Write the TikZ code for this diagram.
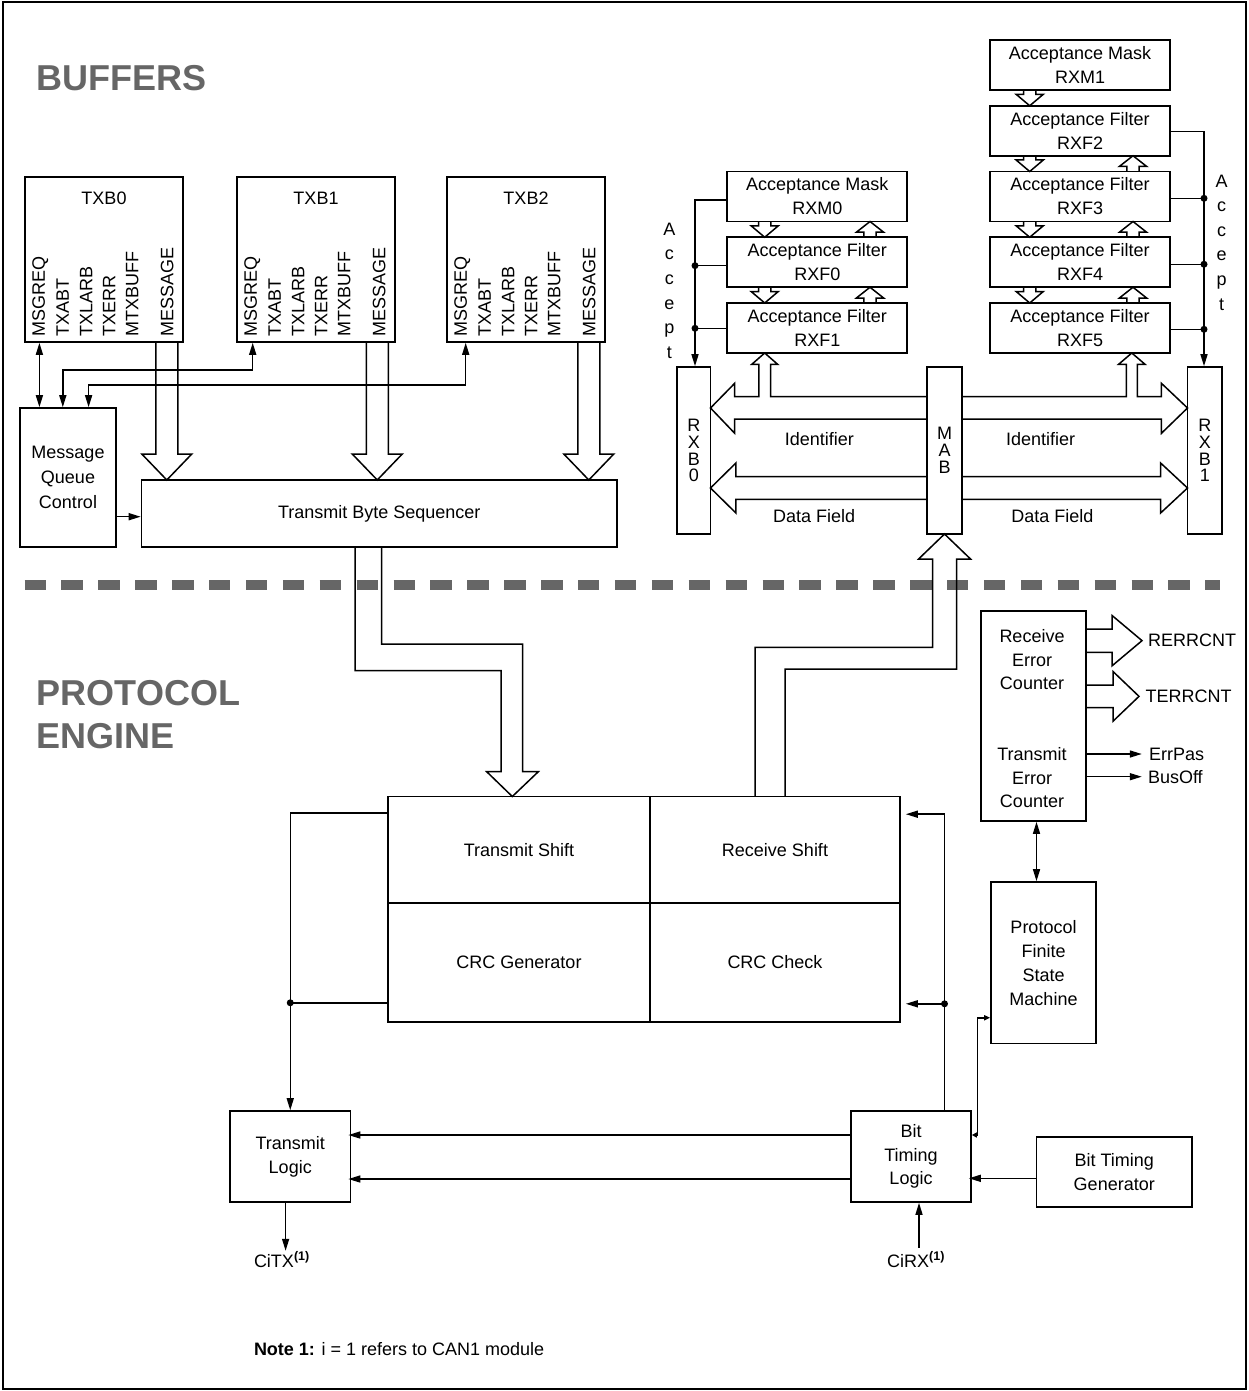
\documentclass[tikz,border=0pt]{standalone}
\usepackage{fontspec}
\setmainfont{Liberation Sans}
\usetikzlibrary{arrows.meta,calc}
\definecolor{ttlgray}{HTML}{666666}
\newcommand{\myfnt}{\fontsize{18}{24}\selectfont}
\newcommand{\myttl}{\fontsize{36}{43}\selectfont\bfseries}
\newcommand{\stackfnt}{\fontsize{18}{16.8}\selectfont}
\newcommand{\accfnt}{\fontsize{18}{24.6}\selectfont}
\newcommand{\tightfnt}{\fontsize{18}{23.5}\selectfont}
\newcommand{\hollowV}[6]{\draw[hol] ({#1-#5},#2) -- ({#1-#5},#3) -- ({#1-#6},#3) -- (#1,#4) -- ({#1+#6},#3) -- ({#1+#5},#3) -- ({#1+#5},#2);}
\newcommand{\hollowH}[6]{\draw[hol] (#2,{#1-#5}) -- (#3,{#1-#5}) -- (#3,{#1-#6}) -- (#4,#1) -- (#3,{#1+#6}) -- (#3,{#1+#5}) -- (#2,{#1+#5});}
\tikzset{
  box/.style={draw, line width=1.6pt, inner sep=0pt, align=center, font=\myfnt},
  acc/.style={box, minimum width=180pt, minimum height=50pt},
  ln/.style={line width=1.5pt},
  arr/.style={ln, -{Triangle[length=12pt,width=7pt]}},
  darr/.style={ln, {Triangle[length=12pt,width=7pt]}-{Triangle[length=12pt,width=7pt]}},
  sarr/.style={ln, {Triangle[length=5pt,width=5pt]}-{Triangle[length=6pt,width=5pt]}},
  hol/.style={line width=1.5pt, line join=miter},
  dot/.style={circle, fill, inner sep=0pt, minimum size=7pt},
  lbl/.style={inner sep=0pt, font=\myfnt},
  vlbl/.style={lbl, rotate=90, anchor=west},
  ttl/.style={inner sep=0pt, font=\myttl, text=ttlgray, anchor=base west},
}
\begin{document}
\begin{tikzpicture}[x=1pt,y=-1pt]
\useasboundingbox (0,0) rectangle (1248,1391);
\draw[line width=2pt] (2.5,2.5) rectangle (1245.5,1388.5);

% titles
\node[ttl] (tbuf) at (36,91) {BUFFERS};
\node[ttl] (tprot) at (36.7,705) {PROTOCOL};
\node[ttl] (teng) at (36.7,748) {ENGINE};

% separator
\draw[ttlgray, line width=10.5pt, dash pattern=on 21.4pt off 15.5pt] (24.5,585) -- (1219.5,585);

% ---------------- transmit buffers
\foreach \b/\cx in {0/104,1/316,2/526} {
  \node[box, minimum width=158pt, minimum height=165pt] (TXB\b) at (\cx,259.5) {};
  \node[lbl] (TXBt\b) at ($(TXB\b.north)+(0,22.3)$) {TXB\b};
  \foreach \l/\o [count=\i] in {MSGREQ/16,TXABT/38.6,TXLARB/62,TXERR/85,MTXBUFF/108,MESSAGE/143}
    \node[vlbl] (TXBl\b\i) at ($(TXB\b.south west)+(\o,-6)$) {\l};
}
\node[box, minimum width=96pt, minimum height=139pt, font=\fontsize{18}{25}\selectfont] (MQC) at (68,477.5) {Message\\Queue\\Control};
\node[box, minimum width=475.5pt, minimum height=67pt] (TBS) at (379.25,513.5) {Transmit Byte Sequencer};

\draw[darr] ($(TXB0.south west)+(15.2,0)$) -- ($(MQC.north west)+(20.2,0)$);
\draw[darr] ($(MQC.north west)+(43.6,0)$) -- ++(0,-37) -| ($(TXB1.south west)+(16.5,0)$);
\draw[darr] ($(MQC.north west)+(69.4,0)$) -- ++(0,-22) -| ($(TXB2.south west)+(19.5,0)$);
\draw[arr] ($(MQC.east)+(0,39.2)$) -- ($(TBS.west)+(0,3.2)$);

\hollowV{166.8}{342}{454}{480}{11}{25}
\hollowV{377.25}{342}{454}{480}{11}{25}
\hollowV{588.8}{342}{454}{480}{11}{25}

% ---------------- acceptance masks / filters
\node[acc] (RXM1) at (1080,65) {Acceptance Mask\\RXM1};
\node[acc] (RXF2) at (1080,130.75) {Acceptance Filter\\RXF2};
\node[acc] (RXF3) at (1080,196.5) {Acceptance Filter\\RXF3};
\node[acc] (RXF4) at (1080,262.25) {Acceptance Filter\\RXF4};
\node[acc] (RXF5) at (1080,328) {Acceptance Filter\\RXF5};
\node[acc] (RXM0) at (817.25,196.5) {Acceptance Mask\\RXM0};
\node[acc] (RXF0) at (817.25,262.25) {Acceptance Filter\\RXF0};
\node[acc] (RXF1) at (817.25,328) {Acceptance Filter\\RXF1};

% small hollow arrows, right stack
\hollowV{1029.7}{90}{94.3}{105.75}{6.2}{13.6}
\hollowV{1029.7}{155.75}{160}{171.5}{6.2}{13.6}
\hollowV{1029.7}{221.5}{225.8}{237.25}{6.2}{13.6}
\hollowV{1029.7}{287.25}{291.5}{303}{6.2}{13.6}
\hollowV{1133}{171.5}{166.4}{155.75}{6.2}{13.6}
\hollowV{1133}{237.25}{232.2}{221.5}{6.2}{13.6}
\hollowV{1133}{303}{298}{287.25}{6.2}{13.6}
% small hollow arrows, left stack
\hollowV{764.7}{221.5}{225.8}{237.25}{6.2}{13.6}
\hollowV{764.7}{287.25}{291.5}{303}{6.2}{13.6}
\hollowV{870}{237.25}{232.2}{221.5}{6.2}{13.6}
\hollowV{870}{303}{298}{287.25}{6.2}{13.6}

% receive buffers
\node[box, minimum width=33.5pt, minimum height=167pt, font=\stackfnt] (RXB0) at (693.75,450.5) {R\\X\\B\\0};
\node[box, minimum width=35pt, minimum height=167pt, font=\stackfnt] (MAB) at (944.5,450.5) {M\\A\\B};
\node[box, minimum width=34.5pt, minimum height=167pt, font=\stackfnt] (RXB1) at (1204.75,450.5) {R\\X\\B\\1};

% accept lines
\coordinate (aL) at ($(RXB0.north)+(1.25,0)$);
\coordinate (aR) at ($(RXB1.north)+(-0.75,0)$);
\coordinate (f0) at ($(RXF0.west)+(0,3.4)$);
\coordinate (f1) at ($(RXF1.west)+(0,0.3)$);
\coordinate (f3) at ($(RXF3.east)+(0,1.8)$);
\coordinate (f4) at ($(RXF4.east)+(0,2)$);
\coordinate (f5) at ($(RXF5.east)+(0,1.3)$);
\draw[arr] ($(RXM0.west)+(0,3.5)$) -| (aL);
\draw[ln] (f0) -- (f0 -| aL);
\draw[ln] (f1) -- (f1 -| aL);
\node[dot] (dL0) at (f0 -| aL) {};
\node[dot] (dL1) at (f1 -| aL) {};
\draw[arr] ($(RXF2.east)+(0,1)$) -| (aR);
\draw[ln] (f3) -- (f3 -| aR);
\draw[ln] (f4) -- (f4 -| aR);
\draw[ln] (f5) -- (f5 -| aR);
\node[dot] (dR3) at (f3 -| aR) {};
\node[dot] (dR4) at (f4 -| aR) {};
\node[dot] (dR5) at (f5 -| aR) {};
\node[lbl, align=center, font=\accfnt, anchor=north] (accL) at (669.3,222.8) {A\\c\\c\\e\\p\\t};
\node[lbl, align=center, font=\accfnt, anchor=north] (accR) at (1221.7,174.5) {A\\c\\c\\e\\p\\t};

% identifier buses
\draw[hol] (927,396.7) -- (770.5,396.7) -- (770.5,364.3) -- (777.6,364.3) -- (764.7,353) -- (751.8,364.3) -- (758.9,364.3) -- (758.9,396.7) -- (734.7,396.7) -- (734.7,383.3) -- (710.5,408) -- (734.7,433.3) -- (734.7,419) -- (927,419);
\draw[hol] (962,396.7) -- (1126.4,396.7) -- (1126.4,364.3) -- (1118.6,364.3) -- (1131.8,353) -- (1145,364.3) -- (1137.3,364.3) -- (1137.3,396.7) -- (1161.4,396.7) -- (1161.4,383.3) -- (1187.5,408) -- (1161.4,433.3) -- (1161.4,419) -- (962,419);
% data field buses
\hollowH{488}{927}{735.9}{710.5}{11.3}{25}
\hollowH{488}{962}{1160.6}{1187.5}{11.3}{25}
\node[lbl] (idL) at (819.3,439.3) {Identifier};
\node[lbl] (idR) at (1040.6,439.3) {Identifier};
\node[lbl] (dfL) at (814.2,516) {Data Field};
\node[lbl] (dfR) at (1052.3,516) {Data Field};

% ---------------- protocol engine
\node[box, minimum width=262pt, minimum height=106.2pt] (TS) at (519,849.6) {Transmit Shift};
\node[box, minimum width=250pt, minimum height=106.2pt] (RS) at (775,849.6) {Receive Shift};
\node[box, minimum width=262pt, minimum height=119.3pt] (CG) at (519,962.35) {CRC Generator};
\node[box, minimum width=250pt, minimum height=119.3pt] (CC) at (775,962.35) {CRC Check};

% transmit path (TBS -> Transmit Shift)
\draw[hol] (355,547) -- (355,670.7) -- (501,670.7) -- (501,771.7) -- (486.7,771.7) -- (512.3,796.5) -- (538.3,771.7) -- (522.7,771.7) -- (522.7,644) -- (381.7,644) -- (381.7,547);
% receive path (Receive Shift -> MAB)
\draw[hol] (755,796.5) -- (755,647.3) -- (932.5,647.3) -- (932.5,559) -- (918.6,559) -- (944.5,534) -- (970.5,559) -- (956.5,559) -- (956.5,669) -- (785,669) -- (785,796.5);

\node[box, minimum width=105pt, minimum height=210pt] (REC) at (1033.5,716) {};
\node[lbl, align=center, font=\tightfnt] (RECt1) at (1032,660) {Receive\\Error\\Counter};
\node[lbl, align=center, font=\tightfnt] (RECt2) at (1032,778) {Transmit\\Error\\Counter};
\node[box, minimum width=105pt, minimum height=161.5pt] (PFSM) at (1043.5,962.75) {Protocol\\Finite\\State\\Machine};
\node[box, minimum width=120.5pt, minimum height=91pt] (TL) at (290.25,1156.5) {Transmit\\Logic};
\node[box, minimum width=120pt, minimum height=91pt, font=\tightfnt] (BTL) at (911,1156.5) {Bit\\Timing\\Logic};
\node[box, minimum width=155.5pt, minimum height=70pt] (BTG) at (1114.25,1172) {Bit Timing\\Generator};

% counters outputs
\hollowH{640.65}{1086}{1112}{1142}{11.65}{25.2}
\hollowH{696.35}{1086}{1113}{1139}{11.35}{24.85}
\node[lbl, anchor=west] (rerr) at (1147.8,640) {RERRCNT};
\node[lbl, anchor=west] (terr) at (1145.4,696.5) {TERRCNT};
\coordinate (e1) at ($(REC.east)+(0,38)$);
\coordinate (e2) at ($(REC.east)+(0,60.7)$);
\draw[arr] (e1) -- ++(55,0) coordinate (e1t);
\draw[arr] (e2) -- ++(55,0) coordinate (e2t);
\node[lbl, anchor=west] (errpas) at ($(e1t)+(7,0)$) {ErrPas};
\node[lbl, anchor=west] (busoff) at ($(e2t)+(6,0)$) {BusOff};
\coordinate (r1) at ($(REC.south)+(3,0)$);
\draw[darr] (r1) -- (r1 |- PFSM.north);

% left side of shift block to Transmit Logic
\draw[arr] ($(TS.north west)+(0,17.5)$) -| (TL.north);
\coordinate (cgL) at ($(CG.south west)+(0,-20)$);
\draw[ln] (cgL) -- (cgL -| TL.north);
\node[dot] (dTL) at (cgL -| TL.north) {};

% right side: Bit Timing Logic feeds shift block
\coordinate (btU) at ($(BTL.north)+(33.5,0)$);
\draw[arr] (btU) |- ($(RS.north east)+(5,18.5)$);
\coordinate (ccR) at ($(CC.south east)+(5,-19)$);
\draw[arr] (ccR -| btU) -- (ccR);
\node[dot] (dBT) at (ccR -| btU) {};

% Bit timing logic connections
\coordinate (b1) at ($(BTL.west)+(0,-21.5)$);
\coordinate (b2) at ($(BTL.west)+(0,22.5)$);
\draw[arr, shorten >=-3pt] (b1) -- (b1 -| TL.east);
\draw[arr, shorten >=-3pt] (b2) -- (b2 -| TL.east);
\coordinate (g1) at ($(BTG.west)+(0,6.3)$);
\draw[arr, shorten >=-3pt] (g1) -- (g1 -| BTL.east);
\coordinate (p1) at ($(PFSM.west)+(0,55)$);
\draw[sarr] (b1 -| BTL.east) -- ++(5.7,0) |- (p1);

% pins
\coordinate (ctx) at ($(TL.south)+(-4.65,48)$);
\draw[arr] ($(TL.south)+(-4.65,0)$) -- (ctx);
\node[lbl, anchor=base west] (citx) at (253.8,1267) {CiTX\raisebox{7pt}{\fontsize{12.5}{13}\selectfont\bfseries (1)}};
\coordinate (crx) at ($(BTL.south)+(8,44.7)$);
\draw[arr] (crx) -- ($(BTL.south)+(8,0)$);
\node[lbl, anchor=base west] (cirx) at (887,1267) {CiRX\raisebox{7pt}{\fontsize{12.5}{13}\selectfont\bfseries (1)}};

\node[lbl, anchor=base west] (note) at (253.8,1355) {\textbf{Note 1:} i = 1 refers to CAN1 module};
\end{tikzpicture}
\end{document}
